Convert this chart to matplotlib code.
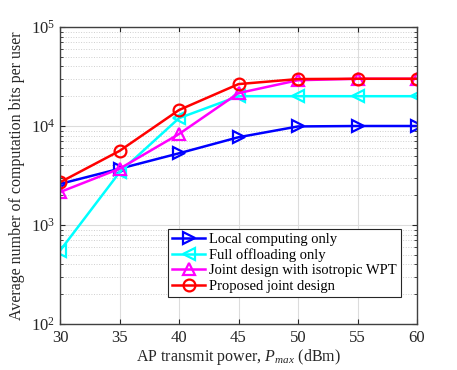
import matplotlib
matplotlib.use("Agg")
import matplotlib.pyplot as plt
from matplotlib.ticker import LogLocator, NullFormatter

plt.rcParams['font.family'] = ['Liberation Serif', 'DejaVu Serif']
plt.rcParams['mathtext.fontset'] = 'custom'
plt.rcParams['mathtext.it'] = 'Liberation Serif:italic'
plt.rcParams['mathtext.rm'] = 'Liberation Serif'

p_max = [30, 35, 40, 45, 50, 55, 60]
local = [2600, 3700, 5300, 7700, 9900, 10000, 10000]
offload = [550, 3400, 12000, 20000, 20000, 20000, 20000]
isotropic = [2150, 3700, 8300, 21500, 29000, 30000, 30000]
proposed = [2700, 5600, 14500, 26500, 29800, 30000, 30000]

labels = ["Local computing only", "Full offloading only",
          "Joint design with isotropic WPT", "Proposed joint design"]

fig = plt.figure(figsize=(4.57, 3.70), dpi=100)
ax = fig.add_axes([60/457, 1-324/370, (417-60)/457, (324-27)/370])

kw = dict(mfc='none', ms=8.5, mew=1.6, lw=1.8)
ax.semilogy(p_max, local, color='#0000ff', marker='>', label=labels[0], **kw)
ax.semilogy(p_max, offload, color='#00ffff', marker='<', label=labels[1], **kw)
ax.semilogy(p_max, isotropic, color='#ff00ff', marker='^', label=labels[2], **kw)
ax.semilogy(p_max, proposed, color='#ff0000', marker='o', label=labels[3], **kw)

ax.set_xlim(30, 60)
ax.set_ylim(1e2, 1e5)
ax.set_xticks(p_max)
ax.yaxis.set_major_locator(LogLocator(base=10, numticks=10))
ax.yaxis.set_minor_locator(LogLocator(base=10, subs=range(2, 10), numticks=20))
ax.yaxis.set_minor_formatter(NullFormatter())
ax.grid(True, which='major', color='#dcdcdc', lw=0.8, ls='-')
ax.grid(True, which='minor', axis='y', color='#cfcfcf', lw=0.7, ls=':')
ax.set_axisbelow(True)
ax.tick_params(which='both', direction='in', top=True, right=True, labelsize=12,
               colors='#262626', labelcolor='#262626')
ax.tick_params(axis='x', pad=4)
for s in ax.spines.values():
    s.set_linewidth(1.0)
    s.set_color('#404040')

ax.set_xlabel(r"AP transmit power, $P_{max}$ (dBm)", fontsize=11.5, color='#262626', labelpad=1)
ax.set_ylabel("Average number of computation bits per user", fontsize=11.5, color='#262626')

leg = ax.legend(loc='lower right', bbox_to_anchor=(0.955, 0.09), fontsize=10.5, fancybox=False,
                edgecolor='#262626', framealpha=1, handlelength=2.2, borderpad=0.3,
                labelspacing=0.15, handletextpad=0.3, borderaxespad=0)
leg.get_frame().set_linewidth(0.8)

fig.savefig("out.png", dpi=100)
